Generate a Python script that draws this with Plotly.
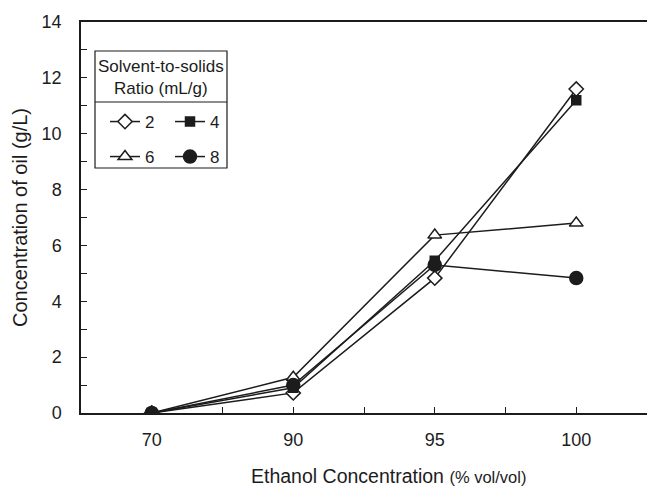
import plotly.graph_objects as go

# Data
ethanol_labels = ["70", "90", "95", "100"]
x_pos = [0, 1, 2, 3]
ratio_2 = [0.0, 0.72, 4.83, 11.6]
ratio_4 = [0.0, 0.9, 5.45, 11.2]
ratio_6 = [0.0, 1.28, 6.37, 6.8]
ratio_8 = [0.0, 1.0, 5.3, 4.83]

FONT = "Liberation Sans, Arial, sans-serif"
INK = "#1c1c1c"

W, H = 647, 487
L, R, T, B = 81, 0, 22, 74
pw, ph = W - L - R, H - T - B

def px(xp):
    return (xp - L) / pw

def py(yp):
    return (H - B - yp) / ph

fig = go.Figure()

series = [
    ("2", ratio_2, "diamond", 11, "white", "legend"),
    ("4", ratio_4, "square", 9, INK, "legend"),
    ("6", ratio_6, "triangle-up", 12, "white", "legend2"),
    ("8", ratio_8, "circle", 13, INK, "legend2"),
]
for name, vals, sym, size, fill, lg in series:
    fig.add_trace(go.Scatter(
        x=x_pos, y=vals, name=name, mode="lines+markers",
        line=dict(color=INK, width=1.5),
        marker=dict(symbol=sym, size=size, color=fill,
                    line=dict(color=INK, width=1.5)),
        legend=lg,
    ))

# legend box
fig.add_shape(type="rect", xref="paper", yref="paper",
              x0=px(95), x1=px(227), y0=py(168), y1=py(51),
              line=dict(color=INK, width=1.2), fillcolor="white", layer="below")
fig.add_shape(type="line", xref="paper", yref="paper",
              x0=px(95), x1=px(227), y0=py(102), y1=py(102),
              line=dict(color=INK, width=1.2))
fig.add_annotation(xref="paper", yref="paper", x=px(161), y=py(77),
                   text="Solvent-to-solids<br>Ratio (mL/g)", showarrow=False,
                   font=dict(family=FONT, size=17, color=INK), align="center",
                   xanchor="center", yanchor="middle")

# x-axis title (placed as in the original, slightly right of centre)
fig.add_annotation(xref="paper", yref="paper", x=px(388), y=py(476),
                   text="Ethanol Concentration <span style='font-size:16.5px'>(% vol/vol)</span>",
                   showarrow=False, font=dict(family=FONT, size=19.5, color=INK),
                   xanchor="center", yanchor="middle")

leg_common = dict(orientation="h", bgcolor="rgba(0,0,0,0)", borderwidth=0,
                  font=dict(family=FONT, size=17, color=INK),
                  entrywidth=20, entrywidthmode="pixels",
                  xanchor="left", yanchor="middle")

fig.update_layout(
    width=W, height=H,
    margin=dict(l=L, r=R, t=T, b=B),
    paper_bgcolor="white", plot_bgcolor="white",
    font=dict(family=FONT, size=18, color=INK),
    legend=dict(x=px(105), y=py(122), **leg_common),
    legend2=dict(x=px(105), y=py(157), **leg_common),
    xaxis=dict(
        range=[-0.5, 3.5], tickmode="array",
        tickvals=[0, 0.5, 1, 1.5, 2, 2.5, 3],
        ticktext=[ethanol_labels[0], "", ethanol_labels[1], "", ethanol_labels[2], "", ethanol_labels[3]],
        ticks="inside", ticklen=6, tickwidth=1.2, tickcolor=INK,
        showline=True, linecolor=INK, linewidth=1.5, mirror=True,
        showgrid=False, zeroline=False,
        tickfont=dict(family=FONT, size=18, color=INK),
        ticklabelstandoff=10,
    ),
    yaxis=dict(
        range=[0, 14], tickmode="linear", tick0=0, dtick=2,
        ticks="inside", ticklen=6, tickwidth=1.2, tickcolor=INK,
        minor=dict(dtick=1, ticks="inside", ticklen=6, tickwidth=1.2, tickcolor=INK),
        showline=True, linecolor=INK, linewidth=1.5,
        showgrid=False, zeroline=False,
        tickfont=dict(family=FONT, size=18, color=INK),
        ticklabelstandoff=14,
        title=dict(text="Concentration of oil (g/L)",
                   font=dict(family=FONT, size=20, color=INK), standoff=9),
    ),
)

fig.write_html("out.html")
